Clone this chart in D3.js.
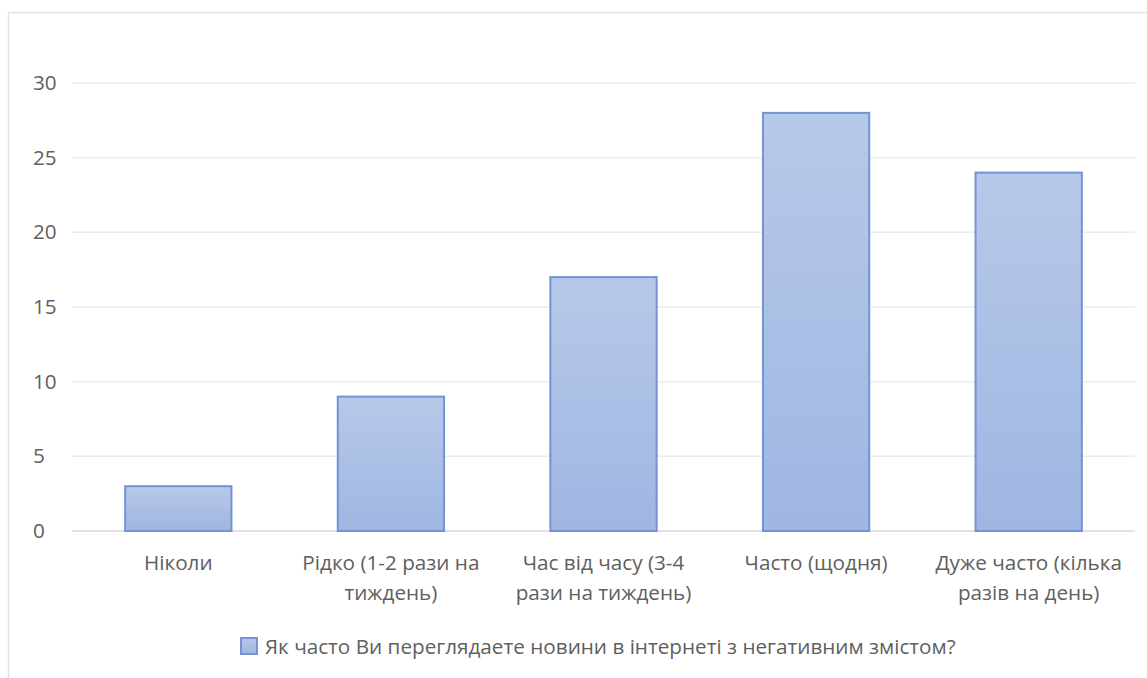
<!DOCTYPE html>
<html>
<head>
<meta charset="utf-8">
<script src="https://cdn.jsdelivr.net/npm/d3@7"></script>
<style>
  html, body { margin: 0; padding: 0; background: #fff; }
  svg { display: block; }
  text { font-family: "Open Sans", "Noto Sans", sans-serif; fill: #606060; }
</style>
</head>
<body>
<svg id="chart" width="1147" height="678"></svg>
<script>
// Survey answers: how often people read negative news online
const categories = [
  "Ніколи",
  "Рідко (1-2 рази на тиждень)",
  "Час від часу (3-4 рази на тиждень)",
  "Часто (щодня)",
  "Дуже часто (кілька разів на день)"
];
const counts = [3, 9, 17, 28, 24];
const yTicks = [0, 5, 10, 15, 20, 25, 30];
const seriesName = "Як часто Ви переглядаете новини в інтернеті з негативним змістом?";

const svg = d3.select("#chart");
const W = 1147, H = 678;
const margin = { left: 72, right: 12, top: 83, bottom: 147 };
const fontSize = 20.7;

// chart frame
svg.append("rect")
  .attr("x", 8.5).attr("y", 12.5)
  .attr("width", W + 10).attr("height", H + 10)
  .attr("fill", "#fff").attr("stroke", "#e3e3e3").attr("stroke-width", 1.5);

const defs = svg.append("defs");
const grad = defs.append("linearGradient")
  .attr("id", "barFill").attr("x1", 0).attr("y1", 0).attr("x2", 0).attr("y2", 1);
grad.append("stop").attr("offset", "0%").attr("stop-color", "#b7c9e9");
grad.append("stop").attr("offset", "100%").attr("stop-color", "#9fb6e2");

const x = d3.scaleBand()
  .domain(categories)
  .range([margin.left, W - margin.right])
  .paddingInner(0.5).paddingOuter(0.25);

const y = d3.scaleLinear()
  .domain([0, 30])
  .range([H - margin.bottom, margin.top]);

// gridlines
svg.append("g")
  .selectAll("line")
  .data(yTicks)
  .join("line")
  .attr("x1", margin.left).attr("x2", W - margin.right)
  .attr("y1", d => y(d)).attr("y2", d => y(d))
  .attr("stroke", d => d === 0 ? "#d9d9d9" : "#ececec")
  .attr("stroke-width", 1.5);

// y axis labels, left-aligned in the gutter
const yAxis = svg.append("g")
  .attr("transform", `translate(${margin.left},0)`)
  .call(d3.axisLeft(y).tickValues(yTicks).tickSize(0));
yAxis.select(".domain").remove();
yAxis.selectAll("text")
  .attr("x", 33 - margin.left)
  .attr("text-anchor", "start")
  .attr("font-size", fontSize)
  .attr("font-family", "'Open Sans', sans-serif")
  .attr("fill", "#606060");

// bars
svg.append("g")
  .selectAll("rect")
  .data(categories.map((c, i) => ({ c, v: counts[i] })))
  .join("rect")
  .attr("x", d => x(d.c))
  .attr("y", d => y(d.v))
  .attr("width", x.bandwidth())
  .attr("height", d => y(0) - y(d.v))
  .attr("fill", "url(#barFill)")
  .attr("stroke", "#7393d6")
  .attr("stroke-width", 2);

// category labels, wrapped to the band step
const xAxis = svg.append("g")
  .attr("transform", `translate(0,${y(0)})`)
  .call(d3.axisBottom(x).tickSize(0).tickPadding(0));
xAxis.select(".domain").remove();
xAxis.selectAll("text").remove();

const maxW = 205;
xAxis.selectAll(".tick").each(function (d) {
  const g = d3.select(this);
  const t = g.append("text")
    .attr("text-anchor", "middle")
    .attr("font-size", fontSize)
    .attr("y", 39);
  const words = d.split(" ");
  let line = [];
  let tspan = t.append("tspan").attr("x", 0).attr("dy", 0);
  for (const w of words) {
    line.push(w);
    tspan.text(line.join(" "));
    if (tspan.node().getComputedTextLength() > maxW && line.length > 1) {
      line.pop();
      tspan.text(line.join(" "));
      line = [w];
      tspan = t.append("tspan").attr("x", 0).attr("dy", 30).text(w);
    }
  }
});

// legend
const legend = svg.append("g").attr("transform", "translate(241,638)");
legend.append("rect")
  .attr("x", 0).attr("y", 0).attr("width", 16).attr("height", 16)
  .attr("fill", "url(#barFill)").attr("stroke", "#7393d6").attr("stroke-width", 2);
legend.append("text")
  .attr("x", 24).attr("y", 16)
  .attr("font-size", fontSize)
  .text(seriesName);
</script>
</body>
</html>
